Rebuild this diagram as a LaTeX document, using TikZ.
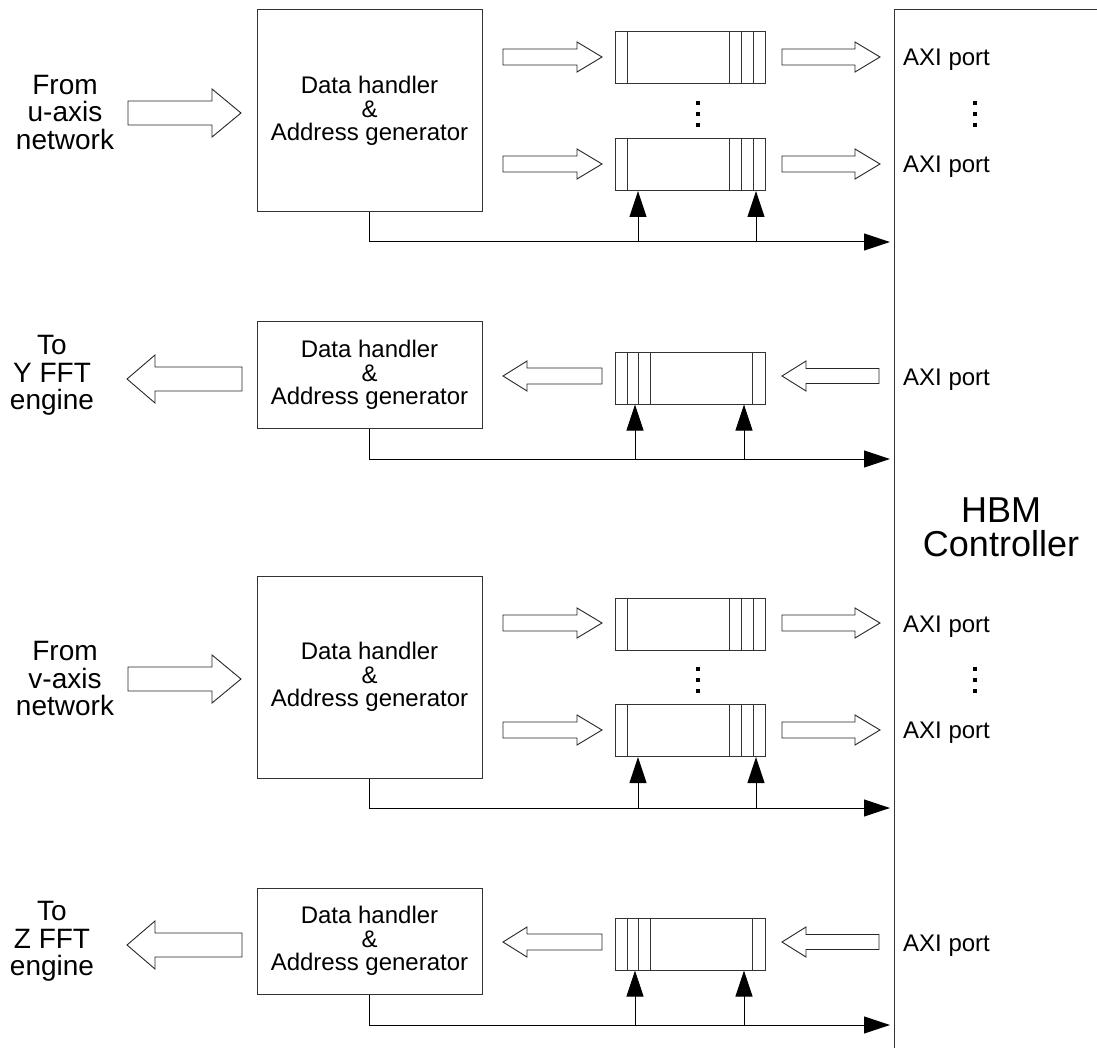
\documentclass[tikz,border=0pt]{standalone}
\usepackage{fontspec}
\setmainfont{Liberation Sans}
\usetikzlibrary{arrows.meta}

\tikzset{
  dhbox/.style={draw=black!80, line width=1pt, inner sep=0pt, align=center,
    font=\fontsize{24}{23.5}\selectfont},
  fifo/.style={draw=black!80, line width=1pt, minimum width=150pt,
    minimum height=52pt, inner sep=0pt},
  divider/.style={draw=black!80, line width=0.9pt},
  barrow/.style={draw=black!85, line width=0.9pt, fill=white, line join=miter},
  ctrl/.style={draw=black, line width=1pt, -{Triangle[length=26pt,width=17pt]}},
  sidetext/.style={align=center, inner sep=0pt, font=\fontsize{28}{27.5}\selectfont},
  porttext/.style={anchor=base west, inner sep=0pt, font=\fontsize{24}{24}\selectfont},
  vdot/.style={fill=black, minimum size=4pt, inner sep=0pt},
  hbmline/.style={draw=black!80, line width=1pt},
}

% hollow block arrow: tail x, head base x, tip x, centre y, shaft half, head half
\newcommand\blockarrow[6]{%
  \draw[barrow] (#1,#4-#5) -- (#2,#4-#5) -- (#2,#4-#6) -- (#3,#4)
    -- (#2,#4+#6) -- (#2,#4+#5) -- (#1,#4+#5) -- cycle;}

% three dots stacked vertically
\newcommand\vellipsis[2]{%
  \node[vdot] (#1a) at (#2,103) {};
  \node[vdot] (#1b) at (#2,114) {};
  \node[vdot] (#1c) at (#2,125) {};}

% write path: network -> handler -> two FIFOs -> AXI ports
\newcommand\writepath[3]{%
  \begin{scope}[yshift=-#2pt]
    \node[dhbox, minimum width=225pt, minimum height=202pt] (#1dh) at (369.5,111)
      {Data handler\\\&\\Address generator};
    \node[sidetext] (#1src) at (65,112.5) {#3};
    \blockarrow{128}{212}{241}{113}{12}{24}
    \node[fifo] (#1fa) at (690,58) {};
    \node[fifo] (#1fb) at (690,164.5) {};
    \foreach \f in {#1fa,#1fb}{
      \draw[divider] ([xshift=13pt]\f.north west) -- ([xshift=13pt]\f.south west);
      \foreach \d in {12,24,36}
        \draw[divider] ([xshift=-\d pt]\f.north east) -- ([xshift=-\d pt]\f.south east);
    }
    \blockarrow{503}{577}{602}{57}{8}{15}
    \blockarrow{503}{577}{602}{164}{8}{15}
    \blockarrow{782}{855}{880}{57}{8}{15}
    \blockarrow{782}{855}{880}{164}{8}{15}
    \vellipsis{#1fd}{698}
    \vellipsis{#1pd}{975}
    \node[porttext] (#1pa) at (903,66) {AXI port};
    \node[porttext] (#1pb) at (903,172.5) {AXI port};
    \coordinate (#1hbm) at (890,242);
    \coordinate (#1ta) at (638,242);
    \coordinate (#1tb) at (756,242);
    \draw[ctrl] (#1dh.south) |- (#1hbm);
    \draw[ctrl] (#1ta) -- (#1ta |- #1fb.south);
    \draw[ctrl] (#1tb) -- (#1tb |- #1fb.south);
  \end{scope}}

% read path: AXI port -> FIFO -> handler -> FFT engine
\newcommand\readpath[3]{%
  \begin{scope}[yshift=-#2pt]
    \node[dhbox, minimum width=225pt, minimum height=106pt] (#1dh) at (369.5,375)
      {Data handler\\\&\\Address generator};
    \node[sidetext] (#1dst) at (52,375.5) {#3};
    \blockarrow{242}{155}{127}{379}{12}{24}
    \node[fifo] (#1f) at (690,378) {};
    \foreach \d in {13,24,36}
      \draw[divider] ([xshift=\d pt]#1f.north west) -- ([xshift=\d pt]#1f.south west);
    \draw[divider] ([xshift=-13pt]#1f.north east) -- ([xshift=-13pt]#1f.south east);
    \blockarrow{602}{527}{503}{376}{8}{15}
    \blockarrow{879}{806}{782}{376}{7.5}{15}
    \node[porttext] (#1p) at (903,385.5) {AXI port};
    \coordinate (#1hbm) at (890,459);
    \coordinate (#1ta) at (635,459);
    \coordinate (#1tb) at (744,459);
    \draw[ctrl] (#1dh.south) |- (#1hbm);
    \draw[ctrl] (#1ta) -- (#1ta |- #1f.south);
    \draw[ctrl] (#1tb) -- (#1tb |- #1f.south);
  \end{scope}}

\begin{document}
\begin{tikzpicture}[x=1pt, y=-1pt]
  \useasboundingbox (0,0) rectangle (1097,1048);

  % HBM controller, open to the right and bottom
  \draw[hbmline] (894,1048) -- (894,10) -- (1097,10);
  \node[align=center, inner sep=0pt, font=\fontsize{36}{34}\selectfont] (hbm) at (1001,527)
    {HBM\\Controller};

  \writepath{u}{0}{From\\u-axis\\network}
  \readpath{y}{0}{To\\Y FFT\\engine}
  \writepath{v}{566}{From\\v-axis\\network}
  \readpath{z}{566}{To\\Z FFT\\engine}
\end{tikzpicture}
\end{document}
